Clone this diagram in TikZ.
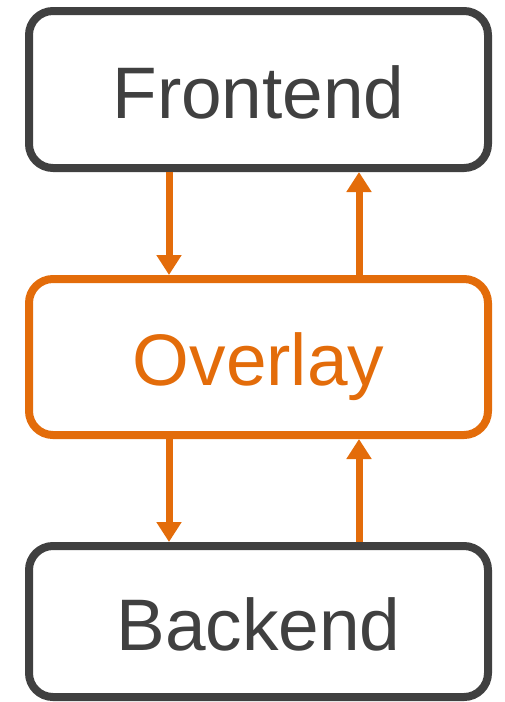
\documentclass[tikz,border=0pt]{standalone}
\usepackage{fontspec}
\setmainfont{Liberation Sans}
\usetikzlibrary{arrows.meta}
\definecolor{dgray}{HTML}{404040}
\definecolor{orng}{HTML}{E36C0A}
\begin{document}
\begin{tikzpicture}[x=1pt,y=-1pt,
  layerbox/.style={draw, line width=8pt, rounded corners=24pt, minimum width=459pt,
    text height=57pt, text depth=0pt, inner sep=0pt,
    font=\fontsize{73}{80}\selectfont},
  conn/.style={draw=orng, line width=7pt, -{Triangle[width=24pt,length=20pt]}}]
\useasboundingbox (0,0) rectangle (504,702);
\node[layerbox, draw=dgray, text=dgray, minimum height=157pt] (front) at (258.5,89.5) {Frontend};
\node[layerbox, draw=orng, text=orng, minimum height=156pt] (over) at (258.5,357) {Overlay};
\node[layerbox, draw=dgray, text=dgray, minimum height=151pt] (back) at (258.5,621.5) {Backend};
\draw[conn] ([xshift=-89.5pt]front.south) -- ([xshift=-89.5pt]over.north);
\draw[conn] ([xshift=100.5pt]over.north) -- ([xshift=100.5pt]front.south);
\draw[conn] ([xshift=-89.5pt]over.south) -- ([xshift=-89.5pt]back.north);
\draw[conn] ([xshift=100.5pt]back.north) -- ([xshift=100.5pt]over.south);
\end{tikzpicture}
\end{document}
